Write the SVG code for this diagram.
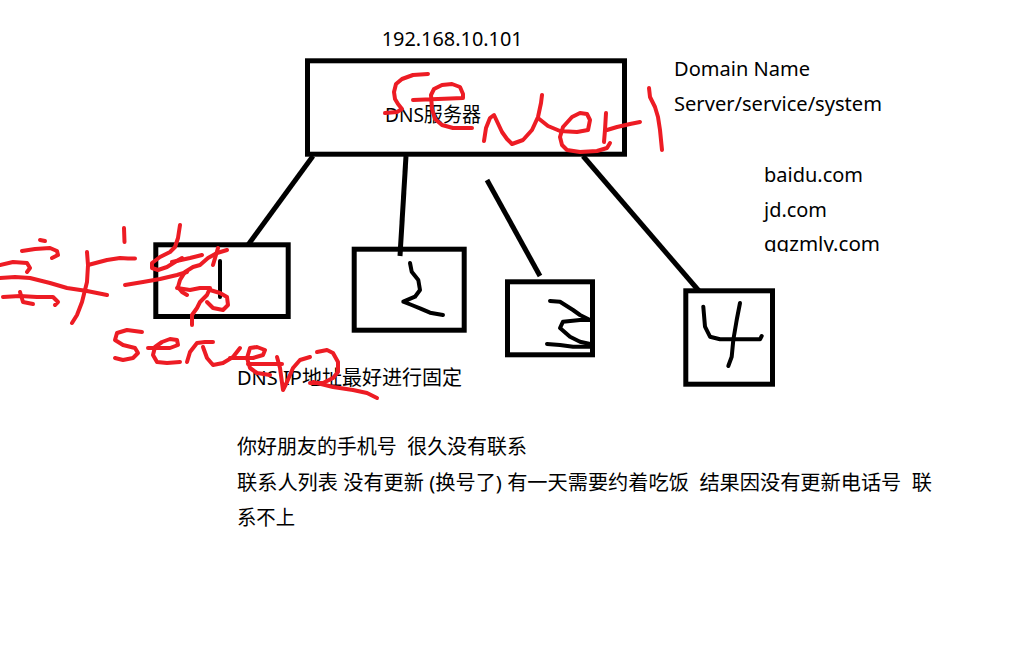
<svg xmlns="http://www.w3.org/2000/svg" width="1033" height="648" viewBox="0 0 1033 648">
  <style>
    .t { font-family: "Noto Sans", "Noto Sans CJK SC", "DejaVu Sans", sans-serif; font-size: 20px; fill: #000; white-space: pre; }
    .box { fill: none; stroke: #000; stroke-width: 5; }
    .conn { fill: none; stroke: #000; stroke-width: 5; stroke-linecap: butt; }
    .pen { fill: none; stroke: #000; stroke-width: 4; stroke-linecap: round; stroke-linejoin: round; }
    .red { fill: none; stroke: #ED1C24; stroke-width: 4; stroke-linecap: round; stroke-linejoin: round; }
  </style>
  <defs>
    <clipPath id="clipDomains">
      <rect x="700" y="150" width="300" height="102"/>
    </clipPath>
  </defs>
  <rect width="1033" height="648" fill="#fff"/>

  <g id="connectors">
    <line class="conn" x1="313" y1="156" x2="248" y2="245"/>
    <line class="conn" x1="406" y1="156" x2="400" y2="256"/>
    <line class="conn" x1="487" y1="180" x2="540" y2="276"/>
    <line class="conn" x1="583" y1="156" x2="699" y2="291"/>
  </g>

  <g id="dns-server">
    <rect class="box" x="307.5" y="60.8" width="317" height="93.4"/>
    <text class="t" x="385" y="122" textLength="96" lengthAdjust="spacingAndGlyphs">DNS服务器</text>
  </g>

  <g id="client-1">
    <rect class="box" x="155.8" y="244.8" width="132.4" height="71.7"/>
    <polyline class="pen" points="220,261 220,297"/>
  </g>

  <g id="client-2">
    <rect class="box" x="354.2" y="249.2" width="110" height="81"/>
    <polyline class="pen" points="410,263 411.7,271.7 418.3,280 420,290 415,296.7 403.3,301.7 411.7,305 420,308.3 430,312.7 443,315"/>
  </g>

  <g id="client-3">
    <rect class="box" x="507.5" y="281.8" width="85" height="73"/>
    <polyline class="pen" points="550,301 560,301.7 573,310 580,315 590,320 580,320 563,321.7 560,328 570,336.7 580,341.7 590,344"/>
    <polyline class="pen" points="547,344 560,345 573,346.7 590,346.7"/>
  </g>

  <g id="client-4">
    <rect class="box" x="685.8" y="290.8" width="86.7" height="93.4"/>
    <polyline class="pen" points="703.3,306.7 705,326.7 710,336.7 720,339.3 760,339.3 761.7,336"/>
    <polyline class="pen" points="740,303 736.7,320 733.3,340 731.7,356.7 728.3,366"/>
  </g>

  <g id="labels">
    <text class="t" x="381.7" y="46" textLength="141" lengthAdjust="spacingAndGlyphs">192.168.10.101</text>
    <text class="t" x="674" y="76" textLength="136" lengthAdjust="spacingAndGlyphs">Domain Name</text>
    <text class="t" x="674" y="111" textLength="208" lengthAdjust="spacingAndGlyphs">Server/service/system</text>
    <g clip-path="url(#clipDomains)">
      <text class="t" x="764" y="182" textLength="99" lengthAdjust="spacingAndGlyphs">baidu.com</text>
      <text class="t" x="764" y="217" textLength="63" lengthAdjust="spacingAndGlyphs">jd.com</text>
      <text class="t" x="764" y="251" textLength="116" lengthAdjust="spacingAndGlyphs">qqzmly.com</text>
    </g>
    <text class="t" x="237" y="385" textLength="225" lengthAdjust="spacingAndGlyphs">DNS IP地址最好进行固定</text>
    <text class="t" x="237" y="454" textLength="290" lengthAdjust="spacingAndGlyphs">你好朋友的手机号  很久没有联系</text>
    <text class="t" x="237" y="490" textLength="695" lengthAdjust="spacingAndGlyphs">联系人列表 没有更新 (换号了) 有一天需要约着吃饭  结果因没有更新电话号  联</text>
    <text class="t" x="237" y="525" textLength="58" lengthAdjust="spacingAndGlyphs">系不上</text>
  </g>

  <g id="handwriting">
    <!-- server1 over DNS box -->
    <polyline class="red" points="428,74 413,75 402,79 396,84 394,92 395,99 398,104 402,109 397,112 385,113"/>
    <polyline class="red" points="413,100 463,98 463,94 460,87 452,84 442,85 434,89 431,95 432,109 435,119 442,125 453,128 472,128"/>
    <polyline class="red" points="484,141 486,128 490,118 494,115 502,132 507,139 512,144 523,140 532,130 538,117 541,103 542,95"/>
    <polyline class="red" points="538,118 548,126 560,131 577,132 588,130 590,120 587,114 580,113 572,117 563,127 560,137 562,145 567,150 580,152 597,151 607,148 610,143"/>
    <polyline class="red" points="606,113 605,130 604,142"/>
    <polyline class="red" points="607,130 617,127 630,124 640,122"/>
    <polyline class="red" points="649,88 650,97 655,107 658,117 660,130 662,150"/>

    <!-- 客户端 scribble -->
    <polyline class="red" points="40,240 45,241"/>
    <polyline class="red" points="22,251 35,249 50,248 57,251 58,255 52,258"/>
    <polyline class="red" points="0,265 13,262 27,263 30,268 27,272"/>
    <polyline class="red" points="0,278 15,277 30,278 50,283 67,288 87,291 107,295"/>
    <polyline class="red" points="3,297 20,296 37,297 53,297 58,302 55,305"/>
    <polyline class="red" points="20,292 23,302 33,304"/>
    <polyline class="red" points="124,228 124.5,242"/>
    <polyline class="red" points="87,252 88,265 87,282 82,302 77,315 72,323"/>
    <polyline class="red" points="88,265 107,260 120,258 128,258.5 135,258.5"/>
    <polyline class="red" points="180,225 178,238 175,247 170,252 160,257 152,263 152,268 158,270 167,267 175,262 182,258"/>
    <polyline class="red" points="172,262 190,258 202,255"/>
    <polyline class="red" points="125,285 143,282 160,279 177,275 187,272"/>
    <polyline class="red" points="227,250 217,253 208,258 200,265 193,267 185,272 180,280 178,287 182,292 187,295"/>
    <polyline class="red" points="218,248 213,265"/>
    <polyline class="red" points="177,288 190,290 200,288 210,288 207,295 200,302 197,308 192,315 192,325"/>
    <polyline class="red" points="210,290 220,293 227,297 228,305 223,310 213,308 207,302"/>

    <!-- server2 -->
    <polyline class="red" points="142,332 127,330 117,333 115,340 123,345 135,348 138,353 133,358 123,360 115,358"/>
    <polyline class="red" points="148,348 170,348 178,345 177,340 170,339 162,342 155,347 153,355 157,362 167,363 180,362"/>
    <polyline class="red" points="187,362 190,352 197,343 205,342 213,342"/>
    <polyline class="red" points="203,347 207,358 213,365 223,363 233,357 240,348"/>
    <polyline class="red" points="230,358 253,358 263,355 265,350 257,347 250,348 247,358 250,368 257,373 270,375"/>
    <polyline class="red" points="248,364 282,364"/>
    <polyline class="red" points="277,357 280,368 283,390 287,382 293,368 300,360 310,357"/>
    <polyline class="red" points="317,352 327,350 333,353 338,362 338,372 333,378 323,383 310,383"/>
    <polyline class="red" points="313,382 333,387 353,390 367,393 377,398"/>
  </g>
</svg>
